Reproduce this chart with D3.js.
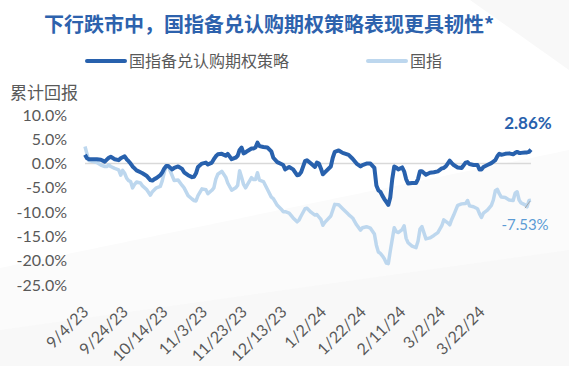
<!DOCTYPE html>
<html><head><meta charset="utf-8">
<script src="https://cdn.jsdelivr.net/npm/d3@7"></script>
<style>body{margin:0;background:#fff}svg{display:block}</style>
</head><body><svg id="c" width="569" height="366"></svg>
<script>
const titleText = "下行跌市中，国指备兑认购期权策略表现更具韧性*";
const seriesNames = ["国指备兑认购期权策略", "国指"];
const yAxisTitle = "累计回报";
const dates = ["2023-09-04","2023-09-05","2023-09-06","2023-09-08","2023-09-10","2023-09-12","2023-09-14","2023-09-15","2023-09-16","2023-09-17","2023-09-19","2023-09-21","2023-09-22","2023-09-23","2023-09-24","2023-09-25","2023-09-26","2023-09-27","2023-09-28","2023-09-29","2023-09-30","2023-10-02","2023-10-03","2023-10-05","2023-10-07","2023-10-08","2023-10-09","2023-10-10","2023-10-12","2023-10-13","2023-10-14","2023-10-15","2023-10-16","2023-10-18","2023-10-19","2023-10-21","2023-10-23","2023-10-24","2023-10-26","2023-10-28","2023-10-29","2023-10-30","2023-10-31","2023-11-02","2023-11-04","2023-11-05","2023-11-07","2023-11-08","2023-11-09","2023-11-10","2023-11-12","2023-11-14","2023-11-15","2023-11-17","2023-11-19","2023-11-20","2023-11-21","2023-11-22","2023-11-23","2023-11-24","2023-11-25","2023-11-27","2023-11-28","2023-11-29","2023-11-30","2023-12-01","2023-12-03","2023-12-05","2023-12-07","2023-12-08","2023-12-10","2023-12-12","2023-12-13","2023-12-14","2023-12-16","2023-12-18","2023-12-20","2023-12-21","2023-12-22","2023-12-24","2023-12-25","2023-12-27","2023-12-29","2023-12-30","2023-12-31","2024-01-01","2024-01-02","2024-01-03","2024-01-06","2024-01-07","2024-01-08","2024-01-10","2024-01-12","2024-01-15","2024-01-17","2024-01-19","2024-01-21","2024-01-22","2024-01-24","2024-01-26","2024-01-28","2024-01-29","2024-01-30","2024-01-31","2024-02-01","2024-02-02","2024-02-03","2024-02-04","2024-02-05","2024-02-06","2024-02-07","2024-02-08","2024-02-09","2024-02-11","2024-02-12","2024-02-13","2024-02-14","2024-02-16","2024-02-18","2024-02-19","2024-02-20","2024-02-21","2024-02-23","2024-02-25","2024-02-27","2024-02-29","2024-03-02","2024-03-03","2024-03-04","2024-03-05","2024-03-06","2024-03-07","2024-03-08","2024-03-10","2024-03-12","2024-03-14","2024-03-15","2024-03-16","2024-03-18","2024-03-20","2024-03-21","2024-03-22","2024-03-23","2024-03-25","2024-03-27","2024-03-28","2024-03-29","2024-03-30","2024-03-31","2024-04-01","2024-04-03","2024-04-05","2024-04-07","2024-04-08","2024-04-09","2024-04-10","2024-04-11","2024-04-13","2024-04-14","2024-04-15","2024-04-16"];
const strategy = [1.8,1.1,0.9,0.9,0.9,0.8,0.4,0.8,1.2,1.4,0.9,0.7,1.1,1.3,1.5,0.9,0.5,0.0,-0.6,-1.0,-1.4,-1.8,-2.0,-2.5,-3.4,-3.5,-3.2,-3.0,-2.4,-1.8,-1.0,-0.5,-0.5,-1.2,-0.9,-0.6,-1.1,-1.8,-2.4,-2.8,-2.7,-2.0,-0.7,0.0,0.2,-0.2,0.2,0.9,1.5,1.9,2.0,1.6,2.0,0.9,1.2,1.6,2.8,3.3,2.1,2.3,2.6,3.1,3.1,3.3,4.3,3.6,3.4,3.3,2.5,1.2,0.3,-0.1,-0.3,-1.2,-0.7,-1.2,-2.4,-2.3,-1.8,0.5,0.7,0.0,-0.7,0.2,0.0,-1.0,-2.2,-1.8,-0.6,1.2,2.4,2.7,2.2,1.8,1.0,0.0,-0.6,-0.3,0.0,0.0,-0.9,-4.5,-5.5,-5.8,-6.6,-7.3,-7.9,-8.5,-7.0,-3.2,-0.6,-0.8,-1.2,-0.8,-1.6,-3.2,-4.1,-4.0,-4.0,-3.2,-1.6,-1.6,-2.3,-1.9,-1.8,-1.6,-1.0,-0.9,-0.6,0.0,0.6,0.1,-0.3,-0.8,-0.9,0.2,0.3,-0.1,-0.3,-0.3,-1.2,-1.2,-0.7,-0.3,0.1,0.4,0.7,1.5,2.0,1.8,2.0,2.1,1.9,2.2,2.4,2.2,2.2,2.3,2.3,2.4,2.86];
const hsceIndex = [3.5,2.0,0.6,0.4,0.2,-0.3,-0.6,-0.6,-0.3,-0.6,-1.0,-1.3,-2.4,-1.4,-2.0,-3.0,-3.5,-3.7,-5.0,-4.3,-3.8,-4.0,-4.6,-5.3,-6.5,-5.8,-5.4,-5.0,-4.7,-3.5,-1.8,-0.4,-0.5,-2.5,-3.5,-3.4,-4.5,-5.0,-6.6,-7.3,-7.6,-7.7,-6.6,-5.2,-5.4,-6.2,-5.5,-5.0,-3.2,-2.2,-1.6,-2.8,-4.0,-5.5,-5.0,-4.5,-1.5,-2.8,-4.3,-5.0,-4.3,-2.9,-3.3,-3.3,-1.9,-3.4,-3.7,-5.3,-6.9,-7.2,-8.6,-9.4,-9.9,-9.9,-10.2,-11.2,-12.0,-11.6,-10.8,-9.3,-9.2,-10.0,-10.6,-10.5,-11.0,-11.5,-12.7,-12.1,-10.8,-9.6,-8.4,-8.5,-9.3,-10.5,-11.2,-12.6,-13.7,-13.2,-13.0,-13.3,-14.5,-16.8,-18.2,-18.5,-19.0,-19.6,-20.5,-20.6,-18.0,-15.6,-13.2,-14.0,-14.2,-13.6,-12.8,-15.4,-16.3,-17.0,-17.3,-16.0,-13.5,-13.0,-15.5,-15.3,-14.8,-14.2,-12.8,-11.6,-11.9,-12.2,-12.6,-11.5,-10.6,-8.6,-8.3,-8.2,-7.6,-8.7,-8.9,-9.3,-10.3,-11.1,-10.2,-9.6,-8.6,-7.5,-5.6,-5.3,-6.2,-6.9,-7.0,-7.5,-7.6,-6.1,-5.8,-7.5,-8.1,-8.5,-8.9,-7.6,-7.53];
const yTicks = [10, 5, 0, -5, -10, -15, -20, -25];
const xTicks = ["2023-09-04","2023-09-24","2023-10-14","2023-11-03","2023-11-23","2023-12-13","2024-01-02","2024-01-22","2024-02-11","2024-03-02","2024-03-22"];

const parse = d3.timeParse("%Y-%m-%d");
const svg = d3.select("#c");
const darkBlue = "#2861ad", lightBlue = "#bdd7ee", grey = "#595959";
const font = "Lato, 'Noto Sans', sans-serif";
const cjk = "'Noto Sans CJK SC', sans-serif";

// subtle background decoration
svg.append("rect").attr("width",569).attr("height",366).attr("fill","#ffffff");
svg.append("path").attr("d","M0,268 L569,150 L569,366 L0,366 Z").attr("fill","#fbfbfb");
svg.append("path").attr("d","M0,330 L569,250 L569,366 L0,366 Z").attr("fill","#f8f8f8");
svg.append("path").attr("d","M470,0 L569,0 L569,70 Z").attr("fill","#f8f8f8");

const x = d3.scaleTime().domain([parse(dates[0]), parse(dates[dates.length-1])]).range([85, 531]);
const y = d3.scaleLinear().domain([-25, 10]).range([285, 115]);

// title
svg.append("text").attr("x", 44).attr("y", 32).attr("font-family", cjk).attr("font-weight", "bold")
  .attr("font-size", 20).attr("fill", "#2d62ad").text(titleText);

// legend
const leg = [{name: seriesNames[0], c: darkBlue, x: 87}, {name: seriesNames[1], c: lightBlue, x: 368}];
leg.forEach(l => {
  svg.append("line").attr("x1", l.x).attr("x2", l.x + 38).attr("y1", 61).attr("y2", 61)
    .attr("stroke", l.c).attr("stroke-width", 4).attr("stroke-linecap", "round");
  svg.append("text").attr("x", l.x + 42).attr("y", 67).attr("font-family", cjk).attr("font-size", 16)
    .attr("fill", grey).text(l.name);
});

// y-axis title
svg.append("text").attr("x", 10).attr("y", 99).attr("font-family", cjk).attr("font-size", 17)
  .attr("fill", grey).text(yAxisTitle);

// y axis
const yAxis = svg.append("g").attr("transform", "translate(70,0)")
  .call(d3.axisLeft(y).tickValues(yTicks).tickSize(0).tickPadding(3).tickFormat(d => d.toFixed(1) + "%"));
yAxis.select(".domain").remove();
yAxis.selectAll("text").attr("font-family", font).attr("font-size", 16).attr("fill", grey);

// x axis
const xAxis = svg.append("g").attr("transform", "translate(0,300)")
  .call(d3.axisBottom(x).tickValues(xTicks.map(parse)).tickSize(0).tickFormat(d3.timeFormat("%-m/%-d/%y")));
xAxis.select(".domain").remove();
xAxis.selectAll("text").attr("font-family", font).attr("font-size", 16).attr("fill", grey)
  .attr("text-anchor", "end").attr("dy", 0).attr("y", 0)
  .attr("transform", "translate(4,13) rotate(-45)");

// zero line
svg.append("line").attr("x1", x.range()[0]).attr("x2", x.range()[1]).attr("y1", y(0)).attr("y2", y(0))
  .attr("stroke", "#d9d9d9").attr("stroke-width", 1.5);

const data = dates.map((d, i) => ({date: parse(d), s: strategy[i], h: hsceIndex[i]}));
const lineH = d3.line().x(d => x(d.date)).y(d => y(d.h));
const lineS = d3.line().x(d => x(d.date)).y(d => y(d.s));
svg.append("path").datum(data).attr("d", lineH).attr("fill", "none").attr("stroke", lightBlue)
  .attr("stroke-width", 3.5).attr("stroke-linejoin", "round");
svg.append("path").datum(data).attr("d", lineS).attr("fill", "none").attr("stroke", darkBlue)
  .attr("stroke-width", 4).attr("stroke-linejoin", "round");

// end labels
const last = data[data.length - 1];
svg.append("text").attr("x", 528).attr("y", 129).attr("text-anchor", "middle").attr("font-family", font)
  .attr("font-weight", "bold").attr("font-size", 17).attr("fill", darkBlue).text(last.s.toFixed(2) + "%");
svg.append("line").attr("x1", x(last.date) - 6).attr("y1", y(last.h) + 8).attr("x2", x(last.date) - 1).attr("y2", y(last.h) + 1)
  .attr("stroke", "#a6a6a6").attr("stroke-width", 1);
svg.append("text").attr("x", 525).attr("y", 230).attr("text-anchor", "middle").attr("font-family", font)
  .attr("font-size", 15).attr("fill", "#5b9bd5").text(last.h.toFixed(2) + "%");
</script></body></html>
